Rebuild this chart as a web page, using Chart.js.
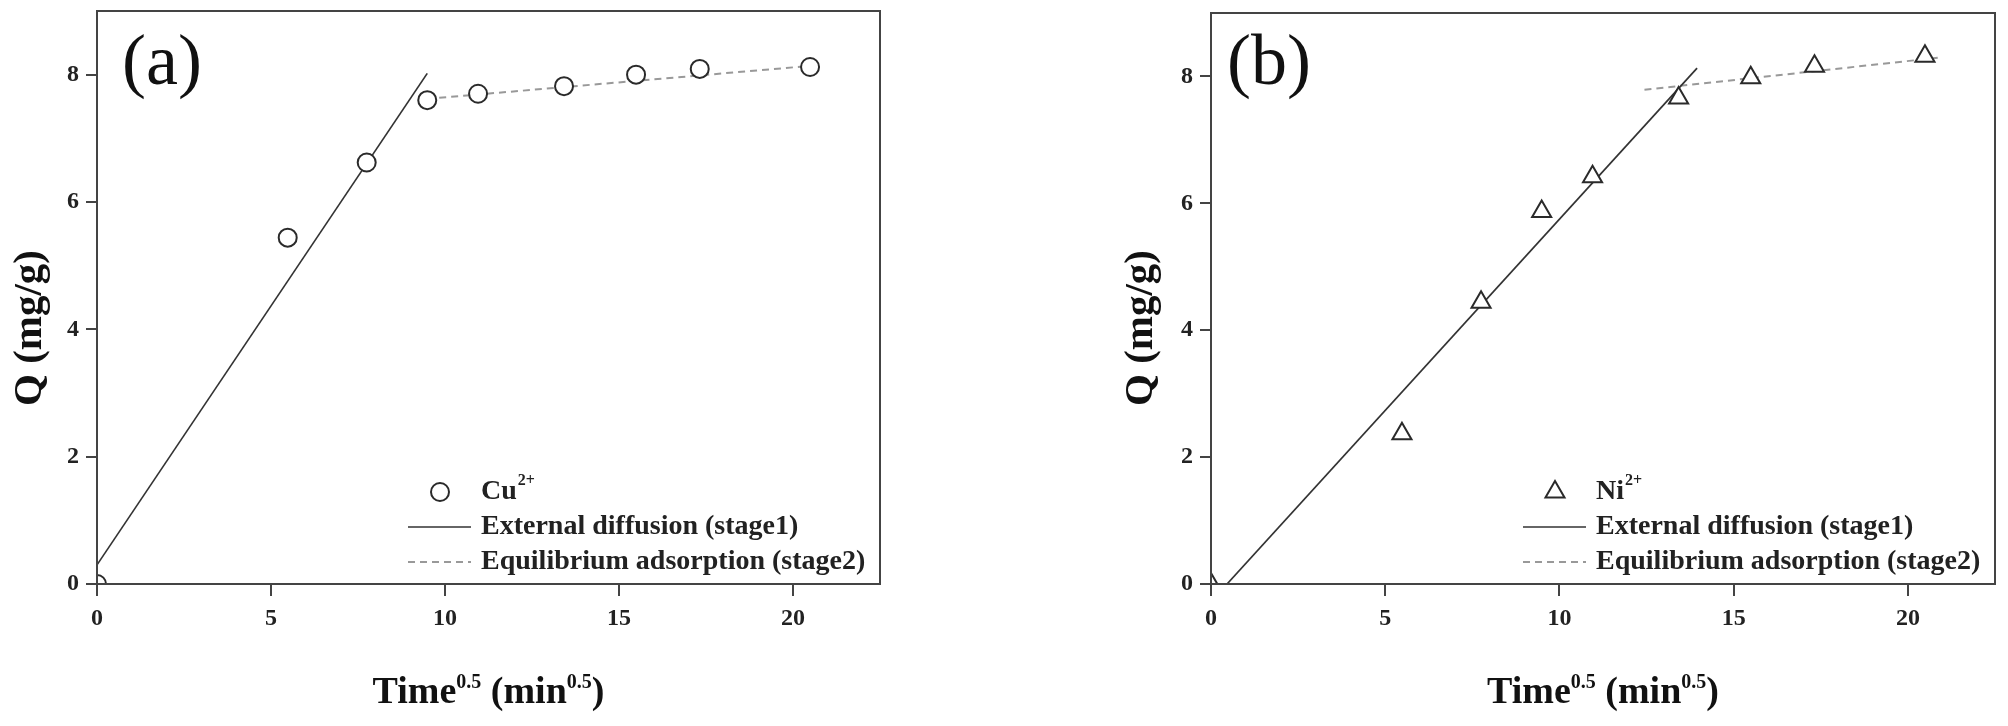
<!DOCTYPE html>
<html>
<head>
<meta charset="utf-8">
<script src="https://cdn.jsdelivr.net/npm/chart.js@4.4.1/dist/chart.umd.min.js"></script>
<style>
  html, body { margin: 0; padding: 0; background: #fff; }
  body { width: 2008px; height: 726px; position: relative; overflow: hidden; }
  .panel { position: absolute; top: 0; width: 1004px; height: 726px; }
  #panelA { left: 0; }
  #panelB { left: 1004px; }
</style>
</head>
<body>
<div class="panel" id="panelA"><canvas id="chartA" width="1004" height="726"></canvas></div>
<div class="panel" id="panelB"><canvas id="chartB" width="1004" height="726"></canvas></div>
<script>
// data, x = time^0.5 (min^0.5), y = Q (mg/g)
const cuTime = [0, 5.48, 7.75, 9.49, 10.95, 13.42, 15.49, 17.32, 20.49];
const cuQ = [0, 5.44, 6.62, 7.60, 7.70, 7.82, 8.00, 8.09, 8.12];
const cuStage1X = [0, 9.49];
const cuStage1Y = [0.3, 8.02];
const cuStage2X = [9.49, 20.75];
const cuStage2Y = [7.62, 8.15];

const niTime = [0, 5.48, 7.75, 9.49, 10.95, 13.42, 15.49, 17.32, 20.49];
const niQ = [0, 2.37, 4.44, 5.87, 6.42, 7.66, 7.98, 8.16, 8.32];
const niStage1X = [0.46, 13.95];
const niStage1Y = [0, 8.13];
const niStage2X = [12.44, 20.95];
const niStage2Y = [7.79, 8.30];

const xTicks = [0, 5, 10, 15, 20];
const yTicks = [0, 2, 4, 6, 8];
const xMax = 22.5;
const yMax = 9;

const stage1Label = "External diffusion (stage1)";
const stage2Label = "Equilibrium adsorption (stage2)";

const SERIF = "'Liberation Serif', 'Times New Roman', serif";
const INK = "#222";

function pts(xs, ys) {
  return xs.map((x, i) => ({ x: x, y: ys[i] }));
}

// draws frame, axis titles, panel letter and the legend
const decorPlugin = {
  id: "decor",
  afterDraw(chart, args, opts) {
    const ctx = chart.ctx;
    const a = chart.chartArea;
    ctx.save();

    // box round the plot
    ctx.strokeStyle = "#444";
    ctx.lineWidth = 2;
    ctx.strokeRect(a.left, a.top, a.right - a.left, a.bottom - a.top);

    // panel letter
    ctx.fillStyle = "#111";
    ctx.font = "72px " + SERIF;
    ctx.textAlign = "left";
    ctx.textBaseline = "alphabetic";
    ctx.fillText(opts.letter, a.left + opts.letterDx, 84);

    // y title
    ctx.save();
    ctx.translate(opts.yTitleX, 328);
    ctx.rotate(-Math.PI / 2);
    ctx.font = "bold 41px " + SERIF;
    ctx.textAlign = "center";
    ctx.textBaseline = "middle";
    ctx.fillText("Q (mg/g)", 0, 0);
    ctx.restore();

    // x title with superscripts
    const parts = [["Time", false], ["0.5", true], [" (min", false], ["0.5", true], [")", false]];
    const big = "bold 38px " + SERIF;
    const small = "bold 20px " + SERIF;
    let total = 0;
    parts.forEach((p) => {
      ctx.font = p[1] ? small : big;
      total += ctx.measureText(p[0]).width;
    });
    let x = (a.left + a.right) / 2 - total / 2;
    const base = 703;
    parts.forEach((p) => {
      ctx.font = p[1] ? small : big;
      ctx.fillText(p[0], x, p[1] ? base - 15 : base);
      x += ctx.measureText(p[0]).width;
    });

    // legend
    const ds = chart.data.datasets;
    const textX = a.right - 399;
    const rows = [a.bottom - 92, a.bottom - 57, a.bottom - 22];
    ctx.textBaseline = "middle";

    // marker row
    ctx.strokeStyle = ds[0].borderColor;
    ctx.fillStyle = "#fff";
    ctx.lineWidth = ds[0].borderWidth;
    Chart.helpers.drawPoint(ctx, {
      pointStyle: ds[0].pointStyle,
      radius: ds[0].pointRadius,
      borderWidth: ds[0].borderWidth,
      rotation: 0
    }, a.right - 440, rows[0]);
    ctx.fillStyle = INK;
    ctx.font = "bold 28px " + SERIF;
    ctx.fillText(opts.ion, textX, rows[0]);
    const w = ctx.measureText(opts.ion).width;
    ctx.font = "bold 16px " + SERIF;
    ctx.fillText("2+", textX + w + 1, rows[0] - 11);

    // line rows
    [1, 2].forEach((k) => {
      const d = ds[k];
      ctx.beginPath();
      ctx.strokeStyle = d.borderColor;
      ctx.lineWidth = d.borderWidth;
      ctx.setLineDash(d.borderDash || []);
      ctx.moveTo(a.right - 472, rows[k]);
      ctx.lineTo(a.right - 409, rows[k]);
      ctx.stroke();
      ctx.setLineDash([]);
      ctx.fillStyle = INK;
      ctx.font = "bold 28px " + SERIF;
      ctx.fillText(d.label, textX, rows[k]);
    });

    ctx.restore();
  }
};

function makeChart(id, cfg) {
  new Chart(document.getElementById(id), {
    type: "scatter",
    data: {
      datasets: [
        {
          label: cfg.ion + "2+",
          data: pts(cfg.px, cfg.py),
          pointStyle: cfg.marker,
          pointRadius: cfg.radius,
          pointBorderWidth: 2,
          borderWidth: 2,
          borderColor: "#2a2a2a",
          pointBackgroundColor: "#fff",
          showLine: false,
          clip: 0
        },
        {
          label: stage1Label,
          data: pts(cfg.s1x, cfg.s1y),
          showLine: true,
          borderColor: "#333",
          borderWidth: 1.7,
          pointRadius: 0
        },
        {
          label: stage2Label,
          data: pts(cfg.s2x, cfg.s2y),
          showLine: true,
          borderColor: "#999",
          borderWidth: 2,
          borderDash: [7, 5],
          pointRadius: 0
        }
      ]
    },
    options: {
      responsive: false,
      animation: false,
      devicePixelRatio: 1,
      layout: { padding: { left: 0, top: 10, right: cfg.padRight, bottom: 0 } },
      plugins: {
        legend: { display: false },
        tooltip: { enabled: false },
        decor: { letter: cfg.letter, letterDx: cfg.letterDx, yTitleX: cfg.yTitleX, ion: cfg.ion }
      },
      scales: {
        x: {
          type: "linear",
          min: 0,
          max: xMax,
          afterBuildTicks: (s) => { s.ticks = xTicks.map((v) => ({ value: v })); },
          afterFit: (s) => { s.height = 142; s.paddingLeft = 0; s.paddingRight = 0; },
          border: { display: false },
          grid: { drawOnChartArea: false, drawTicks: true, tickLength: 12, color: "#444", lineWidth: 2 },
          ticks: { color: INK, padding: 8, maxRotation: 0, font: { family: SERIF, size: 24, weight: "bold" } }
        },
        y: {
          type: "linear",
          min: 0,
          max: yMax,
          afterBuildTicks: (s) => { s.ticks = yTicks.map((v) => ({ value: v })); },
          afterFit: (s) => { s.width = cfg.axisWidth; s.paddingTop = 0; s.paddingBottom = 0; },
          border: { display: false },
          grid: { drawOnChartArea: false, drawTicks: true, tickLength: 11, color: "#444", lineWidth: 2 },
          ticks: { color: INK, padding: 7, font: { family: SERIF, size: 24, weight: "bold" } }
        }
      }
    },
    plugins: [decorPlugin]
  });
}

makeChart("chartA", {
  px: cuTime, py: cuQ, s1x: cuStage1X, s1y: cuStage1Y, s2x: cuStage2X, s2y: cuStage2Y,
  marker: "circle", radius: 9, ion: "Cu", letter: "(a)", letterDx: 25,
  axisWidth: 97, padRight: 124, yTitleX: 30
});

makeChart("chartB", {
  px: niTime, py: niQ, s1x: niStage1X, s1y: niStage1Y, s2x: niStage2X, s2y: niStage2Y,
  marker: "triangle", radius: 11, ion: "Ni", letter: "(b)", letterDx: 16,
  axisWidth: 207, padRight: 12, yTitleX: 137
});
</script>
</body>
</html>
